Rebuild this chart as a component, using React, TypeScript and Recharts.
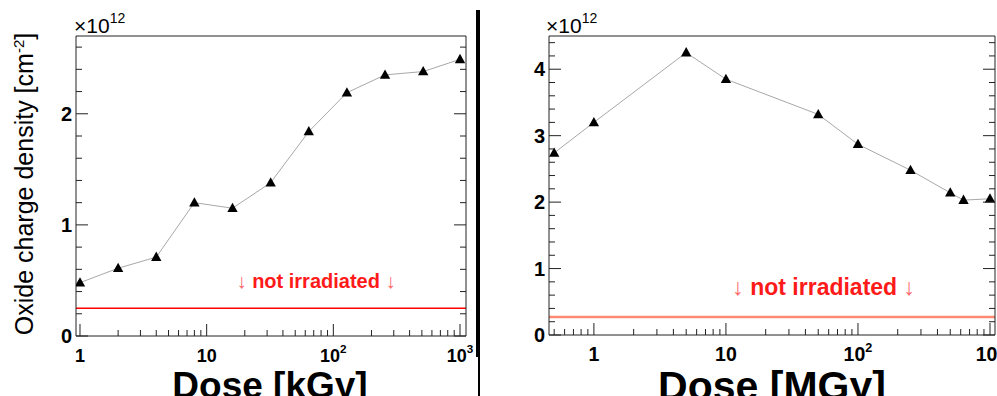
import React from 'react';
import { ComposedChart, Line, XAxis, YAxis, ReferenceLine, ReferenceDot } from 'recharts';

// left panel: kGy irradiation
const kGyDose = [1, 2, 4, 8, 16, 32, 64, 128, 256, 512, 1000];
const kGyDensity = [0.48, 0.61, 0.71, 1.2, 1.15, 1.38, 1.84, 2.19, 2.35, 2.38, 2.49];
const kGyBaseline = 0.25;

// right panel: MGy irradiation
const MGyDose = [0.5, 1, 5, 10, 50, 100, 250, 500, 630, 1000];
const MGyDensity = [2.74, 3.2, 4.25, 3.85, 3.32, 2.87, 2.48, 2.14, 2.03, 2.05];
const MGyBaseline = 0.27;

const decadeTicks = [1, 10, 100, 1000];
const decadeLabels: [string, string][] = [['1', ''], ['10', ''], ['10', '2'], ['10', '3']];
const yMajorTicks = [0, 1, 2, 3, 4];
const yMajorLabels = ['0', '1', '2', '3', '4'];
const noteText = 'not irradiated';

const FONT = '"Liberation Sans", Arial, Helvetica, sans-serif';

const logTicks = (min: number, max: number) => {
  const out: number[] = [];
  for (let d = -1; d <= 3; d++) {
    for (let m = 1; m <= 9; m++) {
      const v = m * Math.pow(10, d);
      if (v >= min && v <= max) out.push(v);
    }
  }
  return out;
};

const linTicks = (max: number) => {
  const out: number[] = [];
  for (let i = 0; i * 0.2 <= max + 1e-9; i++) out.push(Number((i * 0.2).toFixed(1)));
  return out;
};

const isDecade = (v: number) => Math.abs(Math.log10(v) - Math.round(Math.log10(v))) < 1e-9;

const XTick = ({ x, y, payload, side, fontSize, showLabel }: any) => {
  const v = payload.value;
  const major = isDecade(v);
  const len = major ? 12 : 6;
  const dir = side === 'top' ? 1 : -1;
  const idx = decadeTicks.findIndex((t) => Math.abs(t - v) < 1e-9);
  return (
    <g>
      <line x1={x} x2={x} y1={y} y2={y + dir * len} stroke="#222" strokeWidth={1} />
      {showLabel && idx >= 0 && (
        <text x={x} y={y + 26} textAnchor="middle" fontFamily={FONT} fontWeight="bold" fontSize={fontSize} fill="#000">
          {decadeLabels[idx][0]}
          {decadeLabels[idx][1] && (
            <tspan dy={-9} fontSize={fontSize * 0.65}>{decadeLabels[idx][1]}</tspan>
          )}
        </text>
      )}
    </g>
  );
};

const YTick = ({ x, y, payload, side, fontSize }: any) => {
  const v = payload.value;
  const idx = yMajorTicks.indexOf(v);
  const len = idx >= 0 ? 12 : 6;
  const dir = side === 'left' ? 1 : -1;
  return (
    <g>
      <line x1={x} x2={x + dir * len} y1={y} y2={y} stroke="#222" strokeWidth={1} />
      {side === 'left' && idx >= 0 && (
        <text x={x - 4} y={y} dy="0.36em" textAnchor="end" fontFamily={FONT} fontWeight="bold" fontSize={fontSize} fill="#000">
          {yMajorLabels[idx]}
        </text>
      )}
    </g>
  );
};

const Triangle = ({ cx, cy }: any) => (
  <path d={`M${cx},${cy - 5.5} L${cx + 5.2},${cy + 3.8} L${cx - 5.2},${cy + 3.8} Z`} fill="#000" />
);

const Note = ({ cx, cy, fontSize }: any) => (
  <text x={cx} y={cy} textAnchor="middle" fontFamily={FONT} fontSize={fontSize} fill="#ff1a1a">
    <tspan fill="#ff6a6a">{'\u2193 '}</tspan>
    <tspan fontWeight="bold">{noteText}</tspan>
    <tspan fill="#ff6a6a">{' \u2193'}</tspan>
  </text>
);

interface PanelProps {
  doses: number[];
  values: number[];
  xDomain: [number, number];
  yMax: number;
  baseline: number;
  baselineColor: string;
  baselineWidth: number;
  notePos: [number, number];
  noteSize: number;
  width: number;
  margin: { top: number; right: number; bottom: number; left: number };
  xFont: number;
}

const Panel = (p: PanelProps) => {
  const data = p.doses.map((d, i) => ({ dose: d, density: p.values[i] }));
  const xt = logTicks(p.xDomain[0], p.xDomain[1]);
  const yt = linTicks(p.yMax - 0.1);
  return (
    <ComposedChart width={p.width} height={396} data={data} margin={p.margin}>
      <XAxis
        dataKey="dose"
        type="number"
        scale="log"
        domain={p.xDomain}
        allowDataOverflow
        ticks={xt}
        interval={0}
        height={30}
        tickSize={0}
        tickMargin={0}
        tickLine={false}
        axisLine={{ stroke: '#222' }}
        tick={(t: any) => <XTick {...t} side="bottom" fontSize={p.xFont} showLabel />}
      />
      <XAxis
        xAxisId="top"
        orientation="top"
        type="number"
        scale="log"
        domain={p.xDomain}
        allowDataOverflow
        ticks={xt}
        interval={0}
        height={2}
        tickSize={0}
        tickMargin={0}
        tickLine={false}
        axisLine={{ stroke: '#222' }}
        tick={(t: any) => <XTick {...t} side="top" />}
      />
      <YAxis
        type="number"
        domain={[0, p.yMax]}
        allowDataOverflow
        ticks={yt}
        interval={0}
        width={40}
        tickSize={0}
        tickMargin={0}
        tickLine={false}
        axisLine={{ stroke: '#222' }}
        tick={(t: any) => <YTick {...t} side="left" fontSize={20} />}
      />
      <YAxis
        yAxisId="right"
        orientation="right"
        type="number"
        domain={[0, p.yMax]}
        allowDataOverflow
        ticks={yt}
        interval={0}
        width={1}
        tickSize={0}
        tickMargin={0}
        tickLine={false}
        axisLine={{ stroke: '#222' }}
        tick={(t: any) => <YTick {...t} side="right" />}
      />
      <ReferenceLine y={p.baseline} stroke={p.baselineColor} strokeWidth={p.baselineWidth} />
      <ReferenceDot
        x={p.notePos[0]}
        y={p.notePos[1]}
        r={0}
        shape={(s: any) => <Note cx={s.cx} cy={s.cy} fontSize={p.noteSize} />}
      />
      <Line
        dataKey="density"
        type="linear"
        stroke="#a8a8a8"
        strokeWidth={1}
        dot={(d: any) => <Triangle key={d.index} cx={d.cx} cy={d.cy} />}
        activeDot={false}
        isAnimationActive={false}
      />
    </ComposedChart>
  );
};

export default function App() {
  return (
    <div style={{ position: 'fixed', left: 0, top: 0, width: 997, height: 396, background: '#fff', overflow: 'hidden' }}>
      <div style={{ position: 'absolute', left: 0, top: 0 }}>
        <Panel
          doses={kGyDose}
          values={kGyDensity}
          xDomain={[0.93, 1115]}
          yMax={2.7}
          baseline={kGyBaseline}
          baselineColor="#ff0000"
          baselineWidth={1.5}
          notePos={[73, 0.43]}
          noteSize={20}
          width={478}
          margin={{ top: 34, right: 11, bottom: 30, left: 36 }}
          xFont={18}
        />
      </div>
      <div style={{ position: 'absolute', left: 478, top: 0 }}>
        <Panel
          doses={MGyDose}
          values={MGyDensity}
          xDomain={[0.457, 1091]}
          yMax={4.5}
          baseline={MGyBaseline}
          baselineColor="#ff8a72"
          baselineWidth={2.5}
          notePos={[55, 0.6]}
          noteSize={23}
          width={519}
          margin={{ top: 34, right: 1, bottom: 31, left: 31 }}
          xFont={19.5}
        />
      </div>
      <svg width={997} height={396} style={{ position: 'absolute', left: 0, top: 0, pointerEvents: 'none' }}>
        <text transform="translate(33,184) rotate(-90)" textAnchor="middle" fontFamily={FONT} fontSize={25} fill="#000">
          Oxide charge density [cm<tspan dy={-9} fontSize={15}>-2</tspan><tspan dy={9}>]</tspan>
        </text>
        <text x={74} y={33} fontFamily={FONT} fontSize={21} fill="#000">
          ×10<tspan dy={-10} fontSize={14}>12</tspan>
        </text>
        <text x={546} y={33} fontFamily={FONT} fontSize={21} fill="#000">
          ×10<tspan dy={-10} fontSize={14}>12</tspan>
        </text>
        <text x={270} y={398} textAnchor="middle" fontFamily={FONT} fontWeight="bold" fontSize={37} fill="#000">
          Dose [kGy]
        </text>
        <text x={772} y={400} textAnchor="middle" fontFamily={FONT} fontWeight="bold" fontSize={41} fill="#000">
          Dose [MGy]
        </text>
        <rect x={476} y={10} width={4} height={347} fill="#000" />
        <rect x={478} y={357} width={2} height={39} fill="#000" />
      </svg>
    </div>
  );
}
